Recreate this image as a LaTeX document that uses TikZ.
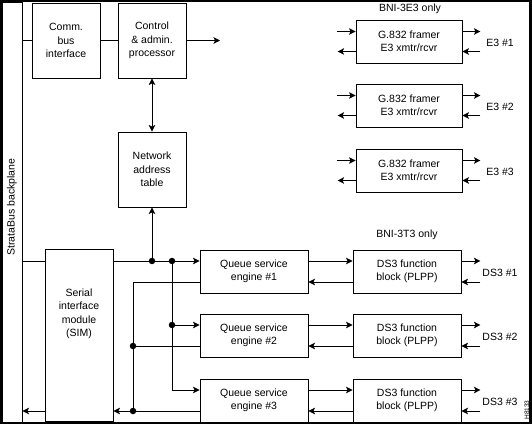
\documentclass[tikz,border=0pt]{standalone}
\usepackage{fontspec}
\setmainfont{Liberation Sans}
\usetikzlibrary{arrows.meta}

\begin{document}
\begin{tikzpicture}[x=1pt,y=-1pt,
    font=\fontsize{10.5}{13.5}\selectfont,
    line width=0.9pt,
    >={Stealth[length=6.5pt,width=6.5pt,inset=1.5pt]},
    blk/.style={draw,align=center,inner sep=0pt},
    dot/.style={circle,fill,inner sep=0pt,minimum size=6.5pt}]

    % Box dimensions
    \def\bigw{68pt}
    \def\bigh{75pt}
    \def\smallw{108pt}
    \def\smallh{43pt}

    \useasboundingbox (0,0) rectangle (532,427);

    % Outer frame
    \draw[line width=2.5pt] (1,1) rectangle (530.5,423);

    % Backplane
    \node[draw,minimum width=20pt,minimum height=420pt] (bp) at (12,212) {};
    \node[rotate=90] (bplabel) at (12,207) {StrataBus backplane};

    % Upper blocks
    \node[blk,minimum width=\bigw,minimum height=\bigh] (comm) at (66,40.5) {Comm.\\bus\\interface};
    \node[blk,minimum width=\bigw,minimum height=\bigh] (ctrl) at (152,40.5) {Control\\\& admin.\\processor};
    \node[blk,minimum width=\bigw,minimum height=\bigh] (net) at (152,169.5) {Network\\address\\table};

    % Serial interface module
    \node[blk,minimum width=\bigw,minimum height=172pt] (sim) at (79,335) {};
    \node[align=center] (simlabel) at (79,314) {Serial\\interface\\module\\(SIM)};

    % E3 framers
    \node (e3title) at (410,9) {BNI-3E3 only};
    \foreach \i/\y in {1/41.5,2/105.5,3/170.5} {
        \node[blk,minimum width=106pt,minimum height=\smallh] (g\i) at (409,\y) {G.832 framer\\E3 xmtr/rcvr};
        \node (e3label\i) at (500,\y+1.5) {E3 \#\i};
        \coordinate (gin\i) at ([xshift=-19pt,yshift=10pt]g\i.west);
        \coordinate (gret\i) at ([xshift=-18pt,yshift=-10pt]g\i.west);
        \coordinate (gout\i) at ([xshift=18pt,yshift=10pt]g\i.east);
        \coordinate (grx\i) at ([xshift=18pt,yshift=-10pt]g\i.east);
        \draw[->] (gin\i) -- (gin\i -| g\i.west);
        \draw[->] (gret\i -| g\i.west) -- (gret\i);
        \draw[->] (gout\i -| g\i.east) -- (gout\i);
        \draw[->] (grx\i) -- (grx\i -| g\i.east);
    }

    % Queue engines and DS3 blocks
    \node (t3title) at (407,235) {BNI-3T3 only};
    \foreach \i/\y in {1/271.5,2/335.5,3/400.5} {
        \node[blk,minimum width=\smallw,minimum height=\smallh] (qse\i) at (254,\y) {Queue service\\engine \#\i};
        \node[blk,minimum width=\smallw,minimum height=\smallh] (ds\i) at (407,\y) {DS3 function\\block (PLPP)};
        \node (dslabel\i) at (500,\y+1.5) {DS3 \#\i};
        \coordinate (dso\i) at ([xshift=19pt,yshift=10.5pt]ds\i.east);
        \coordinate (dsi\i) at ([xshift=19pt,yshift=-10.5pt]ds\i.east);
        \draw[->] ([yshift=10.5pt]qse\i.east) -- ([yshift=10.5pt]ds\i.west);
        \draw[->] ([yshift=-10.5pt]ds\i.west) -- ([yshift=-10.5pt]qse\i.east);
        \draw[->] (dso\i -| ds\i.east) -- (dso\i);
        \draw[->] (dsi\i) -- (dsi\i -| ds\i.east);
        \coordinate (in\i) at ([yshift=10.5pt]qse\i.west);
        \coordinate (ret\i) at ([yshift=-10.5pt]qse\i.west);
    }

    % Backplane and control bus
    \coordinate (ctrlout) at (220,40.5);
    \draw (bp.east |- comm.west) -- (comm.west);
    \draw (comm.east) -- (ctrl.west);
    \draw[->] (ctrl.east) -- (ctrlout);
    \draw[<->] (ctrl.south) -- (net.north);

    % Cell bus to queue engines
    \coordinate (j1) at (152,261);
    \coordinate (j2) at (172,261);
    \coordinate (rx) at (133,0);
    \draw (bp.east |- j1) -- (sim.west |- j1);
    \draw[->] (sim.east |- j1) -- (in1);
    \draw[->] (j1) -- (net.south);
    \draw[->] (j2) |- (in3);
    \draw[->] (j2 |- in2) -- (in2);
    \node[dot] (d1) at (j1) {};
    \node[dot] (d2) at (j2) {};
    \node[dot] (d3) at (j2 |- in2) {};

    % Return bus
    \draw (ret1) -| (rx |- ret3);
    \draw (ret2) -- (rx |- ret2);
    \draw[->] (ret3) -- (sim.east |- ret3);
    \draw[->] (sim.west |- ret3) -- (bp.east |- ret3);
    \node[dot] (d4) at (rx |- ret2) {};
    \node[dot] (d5) at (rx |- ret3) {};

    % Figure id
    \node[rotate=90,font=\fontsize{6.5}{7}\selectfont,inner sep=0pt] (figid) at (527,410) {H8133};

\end{tikzpicture}
\end{document}
